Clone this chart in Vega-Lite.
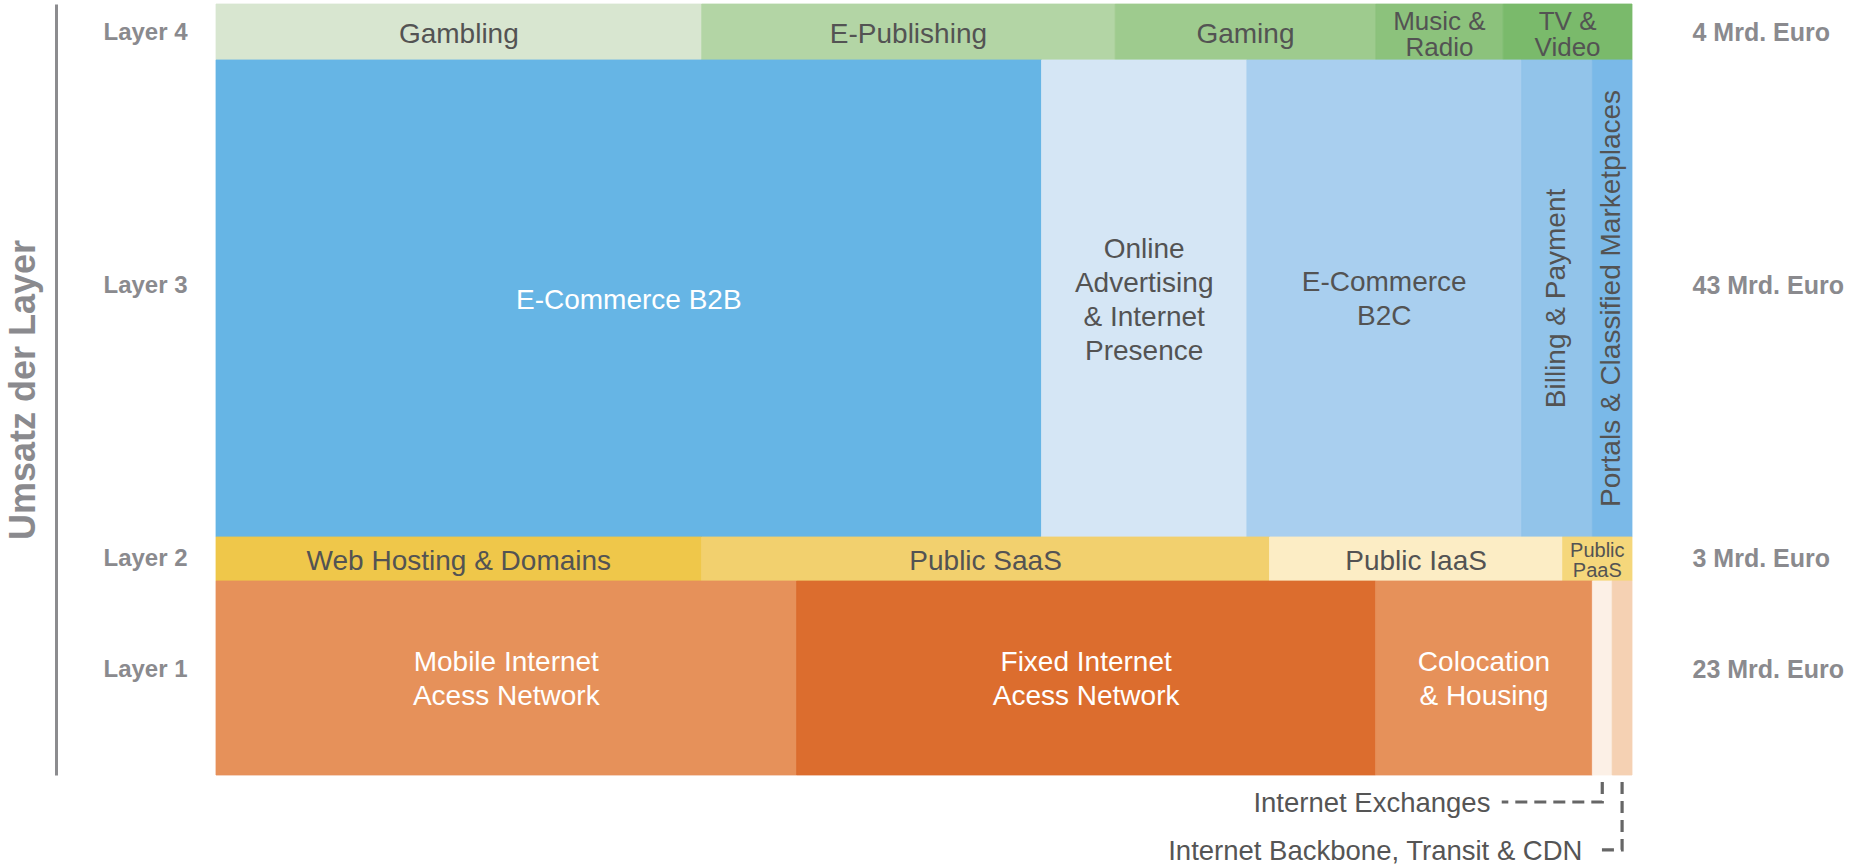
{
  "$schema": "https://vega.github.io/schema/vega-lite/v6.json",
  "autosize": {"type": "none"},
  "padding": {"left": 216, "top": 4, "right": 217, "bottom": 92},
  "width": 1416,
  "height": 771,
  "background": "#ffffff",
  "config": {"view": {"stroke": null}, "font": "Liberation Sans"},
  "datasets": {
    "layers": [
      {"layer": "Layer 1", "y_from": 0, "y_to": 25.16},
      {"layer": "Layer 2", "y_from": 25.16, "y_to": 30.87},
      {"layer": "Layer 3", "y_from": 30.87, "y_to": 92.74},
      {"layer": "Layer 4", "y_from": 92.74, "y_to": 100}
    ],
    "segments": [
      {"layer": "Layer 4", "order": 1, "segment": "Gambling", "label": "Gambling", "share": 34.3},
      {"layer": "Layer 4", "order": 2, "segment": "E-Publishing", "label": "E-Publishing", "share": 29.2},
      {"layer": "Layer 4", "order": 3, "segment": "Gaming", "label": "Gaming", "share": 18.4},
      {"layer": "Layer 4", "order": 4, "segment": "Music & Radio", "label": "Music &\nRadio", "share": 9.0},
      {"layer": "Layer 4", "order": 5, "segment": "TV & Video", "label": "TV &\nVideo", "share": 9.1},
      {"layer": "Layer 3", "order": 1, "segment": "E-Commerce B2B", "label": "E-Commerce B2B", "share": 58.3},
      {"layer": "Layer 3", "order": 2, "segment": "Online Advertising & Internet Presence", "label": "Online\nAdvertising\n& Internet\nPresence", "share": 14.5},
      {"layer": "Layer 3", "order": 3, "segment": "E-Commerce B2C", "label": "E-Commerce\nB2C", "share": 19.4},
      {"layer": "Layer 3", "order": 4, "segment": "Billing & Payment", "label": "Billing & Payment", "share": 5.0},
      {"layer": "Layer 3", "order": 5, "segment": "Portals & Classified Marketplaces", "label": "Portals & Classified Marketplaces", "share": 2.8},
      {"layer": "Layer 2", "order": 1, "segment": "Web Hosting & Domains", "label": "Web Hosting & Domains", "share": 34.3},
      {"layer": "Layer 2", "order": 2, "segment": "Public SaaS", "label": "Public SaaS", "share": 40.1},
      {"layer": "Layer 2", "order": 3, "segment": "Public IaaS", "label": "Public IaaS", "share": 20.7},
      {"layer": "Layer 2", "order": 4, "segment": "Public PaaS", "label": "Public\nPaaS", "share": 4.9},
      {"layer": "Layer 1", "order": 1, "segment": "Mobile Internet Acess Network", "label": "Mobile Internet\nAcess Network", "share": 41.0},
      {"layer": "Layer 1", "order": 2, "segment": "Fixed Internet Acess Network", "label": "Fixed Internet\nAcess Network", "share": 40.9},
      {"layer": "Layer 1", "order": 3, "segment": "Colocation & Housing", "label": "Colocation\n& Housing", "share": 15.3},
      {"layer": "Layer 1", "order": 4, "segment": "Internet Exchanges", "label": "", "share": 1.4},
      {"layer": "Layer 1", "order": 5, "segment": "Internet Backbone, Transit & CDN", "label": "", "share": 1.4}
    ]
  },
  "resolve": {"axis": {"y": "independent"}},
  "layer": [
    {
      "data": {"name": "segments"},
      "transform": [
        {"lookup": "layer", "from": {"data": {"name": "layers"}, "key": "layer", "fields": ["y_from", "y_to"]}},
        {"stack": "share", "groupby": ["layer"], "sort": [{"field": "order", "order": "ascending"}], "as": ["x0", "x1"]}
      ],
      "mark": {"type": "rect", "strokeWidth": 0.8},
      "encoding": {
        "x": {"field": "x0", "type": "quantitative", "scale": {"domain": [0, 100], "nice": false, "zero": false}, "axis": null},
        "x2": {"field": "x1"},
        "y": {
          "field": "y_from", "type": "quantitative",
          "scale": {"domain": [0, 100], "nice": false, "zero": false},
          "axis": {
            "orient": "left", "offset": 160,
            "values": [13.62, 28.02, 63.55, 96.24],
            "labelExpr": "datum.value > 90 ? 'Layer 4' : datum.value > 50 ? 'Layer 3' : datum.value > 20 ? 'Layer 2' : 'Layer 1'",
            "domain": true, "domainColor": "#8c8c8f", "domainWidth": 3, "domainCap": "butt",
            "ticks": false, "grid": false,
            "labelAlign": "center", "labelBaseline": "middle", "labelPadding": -89,
            "labelFont": "Liberation Sans", "labelFontSize": 24, "labelFontWeight": "bold", "labelColor": "#8a8a8e",
            "labelFlush": false, "labelOverlap": false, "labelBound": false,
            "title": "Umsatz der Layer", "titleFont": "Liberation Sans", "titleFontSize": 36, "titleFontWeight": "bold",
            "titleColor": "#8a8a8e", "titlePadding": 14
          }
        },
        "y2": {"field": "y_to"},
        "color": {
          "field": "segment", "type": "nominal", "legend": null,
          "scale": {
            "domain": ["Gambling", "E-Publishing", "Gaming", "Music & Radio", "TV & Video", "E-Commerce B2B", "Online Advertising & Internet Presence", "E-Commerce B2C", "Billing & Payment", "Portals & Classified Marketplaces", "Web Hosting & Domains", "Public SaaS", "Public IaaS", "Public PaaS", "Mobile Internet Acess Network", "Fixed Internet Acess Network", "Colocation & Housing", "Internet Exchanges", "Internet Backbone, Transit & CDN"],
            "range": ["#d8e6d0", "#b3d5a5", "#9ecb8e", "#8cc27c", "#7aba6b", "#66b5e5", "#d5e6f5", "#a9cfef", "#92c4ea", "#7ab9e8", "#efc74a", "#f2d06e", "#fcedc5", "#f5d77b", "#e6915a", "#dc6d2e", "#e6915a", "#fcf0e6", "#f5d1b3"]
          }
        },
        "stroke": {
          "field": "segment", "type": "nominal", "legend": null,
          "scale": {
            "domain": ["Gambling", "E-Publishing", "Gaming", "Music & Radio", "TV & Video", "E-Commerce B2B", "Online Advertising & Internet Presence", "E-Commerce B2C", "Billing & Payment", "Portals & Classified Marketplaces", "Web Hosting & Domains", "Public SaaS", "Public IaaS", "Public PaaS", "Mobile Internet Acess Network", "Fixed Internet Acess Network", "Colocation & Housing", "Internet Exchanges", "Internet Backbone, Transit & CDN"],
            "range": ["#d8e6d0", "#b3d5a5", "#9ecb8e", "#8cc27c", "#7aba6b", "#66b5e5", "#d5e6f5", "#a9cfef", "#92c4ea", "#7ab9e8", "#efc74a", "#f2d06e", "#fcedc5", "#f5d77b", "#e6915a", "#dc6d2e", "#e6915a", "#fcf0e6", "#f5d1b3"]
          }
        }
      }
    },
    {
      "data": {"name": "segments"},
      "transform": [
        {"lookup": "layer", "from": {"data": {"name": "layers"}, "key": "layer", "fields": ["y_from", "y_to"]}},
        {"stack": "share", "groupby": ["layer"], "sort": [{"field": "order", "order": "ascending"}], "as": ["x0", "x1"]},
        {"fold": ["x0", "x1"], "as": ["kx", "vx"]},
        {"fold": ["y_from", "y_to"], "as": ["ky", "vy"]},
        {"aggregate": [{"op": "mean", "field": "vx", "as": "xm"}, {"op": "mean", "field": "vy", "as": "ym"}], "groupby": ["segment", "label", "layer"]},
        {"filter": {"field": "segment", "oneOf": ["Gambling", "E-Publishing", "Gaming", "E-Commerce B2B", "Web Hosting & Domains", "Public SaaS", "Public IaaS"]}}
      ],
      "mark": {"type": "text", "font": "Liberation Sans", "fontSize": 28, "align": "center", "baseline": "middle", "dy": 3},
      "encoding": {
        "x": {"field": "xm", "type": "quantitative", "scale": {"domain": [0, 100], "nice": false, "zero": false}, "axis": null},
        "y": {
          "field": "ym", "type": "quantitative",
          "scale": {"domain": [0, 100], "nice": false, "zero": false},
          "axis": {
            "orient": "right",
            "values": [13.62, 28.02, 63.55, 96.24],
            "labelExpr": "datum.value > 90 ? '4 Mrd. Euro' : datum.value > 50 ? '43 Mrd. Euro' : datum.value > 20 ? '3 Mrd. Euro' : '23 Mrd. Euro'",
            "domain": false, "ticks": false, "grid": false,
            "labelAlign": "left", "labelBaseline": "middle", "labelPadding": 60,
            "labelFont": "Liberation Sans", "labelFontSize": 25, "labelFontWeight": "bold", "labelColor": "#8a8a8e",
            "labelFlush": false, "labelOverlap": false, "labelBound": false,
            "title": null
          }
        },
        "text": {"field": "label", "type": "nominal"},
        "color": {
          "condition": {"test": "datum.segment == 'E-Commerce B2B'", "value": "#ffffff"},
          "value": "#535353"
        }
      }
    },
    {
      "data": {"name": "segments"},
      "transform": [
        {"lookup": "layer", "from": {"data": {"name": "layers"}, "key": "layer", "fields": ["y_from", "y_to"]}},
        {"stack": "share", "groupby": ["layer"], "sort": [{"field": "order", "order": "ascending"}], "as": ["x0", "x1"]},
        {"fold": ["x0", "x1"], "as": ["kx", "vx"]},
        {"fold": ["y_from", "y_to"], "as": ["ky", "vy"]},
        {"aggregate": [{"op": "mean", "field": "vx", "as": "xm"}, {"op": "mean", "field": "vy", "as": "ym"}], "groupby": ["segment", "label", "layer"]},
        {"filter": {"field": "segment", "oneOf": ["E-Commerce B2C", "Mobile Internet Acess Network", "Fixed Internet Acess Network", "Colocation & Housing"]}}
      ],
      "mark": {"type": "text", "font": "Liberation Sans", "fontSize": 28, "lineHeight": 34, "lineBreak": "\n", "align": "center", "baseline": "middle", "dy": -15},
      "encoding": {
        "x": {"field": "xm", "type": "quantitative", "scale": {"domain": [0, 100], "nice": false, "zero": false}, "axis": null},
        "y": {"field": "ym", "type": "quantitative", "scale": {"domain": [0, 100], "nice": false, "zero": false}, "axis": null},
        "text": {"field": "label", "type": "nominal"},
        "color": {
          "condition": {"test": "datum.segment == 'E-Commerce B2C'", "value": "#535353"},
          "value": "#ffffff"
        }
      }
    },
    {
      "data": {"name": "segments"},
      "transform": [
        {"lookup": "layer", "from": {"data": {"name": "layers"}, "key": "layer", "fields": ["y_from", "y_to"]}},
        {"stack": "share", "groupby": ["layer"], "sort": [{"field": "order", "order": "ascending"}], "as": ["x0", "x1"]},
        {"fold": ["x0", "x1"], "as": ["kx", "vx"]},
        {"fold": ["y_from", "y_to"], "as": ["ky", "vy"]},
        {"aggregate": [{"op": "mean", "field": "vx", "as": "xm"}, {"op": "mean", "field": "vy", "as": "ym"}], "groupby": ["segment", "label", "layer"]},
        {"filter": {"field": "segment", "oneOf": ["Online Advertising & Internet Presence"]}}
      ],
      "mark": {"type": "text", "font": "Liberation Sans", "fontSize": 28, "lineHeight": 34, "lineBreak": "\n", "align": "center", "baseline": "middle", "dy": -48, "color": "#535353"},
      "encoding": {
        "x": {"field": "xm", "type": "quantitative", "scale": {"domain": [0, 100], "nice": false, "zero": false}, "axis": null},
        "y": {"field": "ym", "type": "quantitative", "scale": {"domain": [0, 100], "nice": false, "zero": false}, "axis": null},
        "text": {"field": "label", "type": "nominal"}
      }
    },
    {
      "data": {"name": "segments"},
      "transform": [
        {"lookup": "layer", "from": {"data": {"name": "layers"}, "key": "layer", "fields": ["y_from", "y_to"]}},
        {"stack": "share", "groupby": ["layer"], "sort": [{"field": "order", "order": "ascending"}], "as": ["x0", "x1"]},
        {"fold": ["x0", "x1"], "as": ["kx", "vx"]},
        {"fold": ["y_from", "y_to"], "as": ["ky", "vy"]},
        {"aggregate": [{"op": "mean", "field": "vx", "as": "xm"}, {"op": "mean", "field": "vy", "as": "ym"}], "groupby": ["segment", "label", "layer"]},
        {"filter": {"field": "segment", "oneOf": ["Music & Radio", "TV & Video"]}}
      ],
      "mark": {"type": "text", "font": "Liberation Sans", "fontSize": 26, "lineHeight": 26, "lineBreak": "\n", "align": "center", "baseline": "middle", "color": "#535353", "dy": -10},
      "encoding": {
        "x": {"field": "xm", "type": "quantitative", "scale": {"domain": [0, 100], "nice": false, "zero": false}, "axis": null},
        "y": {"field": "ym", "type": "quantitative", "scale": {"domain": [0, 100], "nice": false, "zero": false}, "axis": null},
        "text": {"field": "label", "type": "nominal"}
      }
    },
    {
      "data": {"name": "segments"},
      "transform": [
        {"lookup": "layer", "from": {"data": {"name": "layers"}, "key": "layer", "fields": ["y_from", "y_to"]}},
        {"stack": "share", "groupby": ["layer"], "sort": [{"field": "order", "order": "ascending"}], "as": ["x0", "x1"]},
        {"fold": ["x0", "x1"], "as": ["kx", "vx"]},
        {"fold": ["y_from", "y_to"], "as": ["ky", "vy"]},
        {"aggregate": [{"op": "mean", "field": "vx", "as": "xm"}, {"op": "mean", "field": "vy", "as": "ym"}], "groupby": ["segment", "label", "layer"]},
        {"filter": {"field": "segment", "oneOf": ["Public PaaS"]}}
      ],
      "mark": {"type": "text", "font": "Liberation Sans", "fontSize": 20, "lineHeight": 20, "lineBreak": "\n", "align": "center", "baseline": "middle", "color": "#535353", "dy": -8},
      "encoding": {
        "x": {"field": "xm", "type": "quantitative", "scale": {"domain": [0, 100], "nice": false, "zero": false}, "axis": null},
        "y": {"field": "ym", "type": "quantitative", "scale": {"domain": [0, 100], "nice": false, "zero": false}, "axis": null},
        "text": {"field": "label", "type": "nominal"}
      }
    },
    {
      "data": {"name": "segments"},
      "transform": [
        {"lookup": "layer", "from": {"data": {"name": "layers"}, "key": "layer", "fields": ["y_from", "y_to"]}},
        {"stack": "share", "groupby": ["layer"], "sort": [{"field": "order", "order": "ascending"}], "as": ["x0", "x1"]},
        {"fold": ["x0", "x1"], "as": ["kx", "vx"]},
        {"fold": ["y_from", "y_to"], "as": ["ky", "vy"]},
        {"aggregate": [{"op": "mean", "field": "vx", "as": "xm"}, {"op": "mean", "field": "vy", "as": "ym"}], "groupby": ["segment", "label", "layer"]},
        {"filter": {"field": "segment", "oneOf": ["Billing & Payment", "Portals & Classified Marketplaces"]}}
      ],
      "mark": {"type": "text", "font": "Liberation Sans", "fontSize": 28, "angle": 270, "align": "center", "baseline": "middle", "color": "#535353"},
      "encoding": {
        "x": {"field": "xm", "type": "quantitative", "scale": {"domain": [0, 100], "nice": false, "zero": false}, "axis": null},
        "y": {"field": "ym", "type": "quantitative", "scale": {"domain": [0, 100], "nice": false, "zero": false}, "axis": null},
        "text": {"field": "label", "type": "nominal"}
      }
    },
    {
      "data": {"values": [
        {"note": "Internet Exchanges", "step": 1, "x": 97.9, "y": -0.9},
        {"note": "Internet Exchanges", "step": 2, "x": 97.9, "y": -3.5},
        {"note": "Internet Exchanges", "step": 3, "x": 90.8, "y": -3.5},
        {"note": "Internet Backbone, Transit & CDN", "step": 1, "x": 99.3, "y": -0.9},
        {"note": "Internet Backbone, Transit & CDN", "step": 2, "x": 99.3, "y": -9.7},
        {"note": "Internet Backbone, Transit & CDN", "step": 3, "x": 97.6, "y": -9.7}
      ]},
      "mark": {"type": "line", "strokeDash": [12, 7], "strokeWidth": 3.2, "color": "#666666", "strokeCap": "butt", "strokeJoin": "miter"},
      "encoding": {
        "x": {"field": "x", "type": "quantitative", "scale": {"domain": [0, 100], "nice": false, "zero": false}, "axis": null},
        "y": {"field": "y", "type": "quantitative", "scale": {"domain": [0, 100], "nice": false, "zero": false}, "axis": null},
        "detail": {"field": "note", "type": "nominal"},
        "order": {"field": "step", "type": "quantitative"}
      }
    },
    {
      "data": {"values": [
        {"note": "Internet Exchanges", "x": 90.0, "y": -3.5},
        {"note": "Internet Backbone, Transit & CDN", "x": 96.5, "y": -9.7}
      ]},
      "mark": {"type": "text", "font": "Liberation Sans", "fontSize": 27.5, "align": "right", "baseline": "middle", "color": "#555555", "dy": 2},
      "encoding": {
        "x": {"field": "x", "type": "quantitative", "scale": {"domain": [0, 100], "nice": false, "zero": false}, "axis": null},
        "y": {"field": "y", "type": "quantitative", "scale": {"domain": [0, 100], "nice": false, "zero": false}, "axis": null},
        "text": {"field": "note", "type": "nominal"}
      }
    }
  ]
}
